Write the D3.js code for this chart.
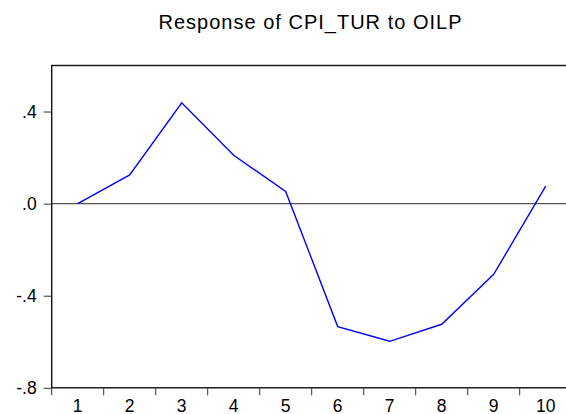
<!doctype html>
<html>
<head>
<meta charset="UTF-8">
<title>Response of CPI_TUR to OILP</title>
<script src="https://d3js.org/d3.v7.min.js"></script>
<style>
  body { margin: 0; background: #fff; }
  svg text { font-family: "Liberation Sans", Arial, sans-serif; fill: #000; }
</style>
</head>
<body>
<svg id="chart" width="566" height="414"></svg>
<script>
// periods and impulse response values
var periods = [1, 2, 3, 4, 5, 6, 7, 8, 9, 10];
var response = [0.0, 0.125, 0.438, 0.21, 0.053, -0.534, -0.598, -0.524, -0.307, 0.076];
var yTicks = [-0.8, -0.4, 0.0, 0.4];
var yTickLabels = ["-.8", "-.4", ".0", ".4"];
var title = "Response of CPI_TUR to OILP";

function draw() {
    var svg = d3.select("#chart");
    var plotLeft = 51.7, plotTop = 65.5, plotBottom = 387.8, plotRight = 571.7;

    var x = d3.scaleBand().domain(periods).range([plotLeft, plotRight]);
    var y = d3.scaleLinear().domain([-0.8, 0.6]).range([plotBottom, plotTop]);

    // title
    svg.append("text")
        .attr("x", 158.5)
        .attr("y", 29.3)
        .attr("font-size", 20)
        .attr("textLength", 303)
        .attr("lengthAdjust", "spacing")
        .text(title);

    // zero line
    svg.append("line")
        .attr("x1", plotLeft).attr("x2", plotRight)
        .attr("y1", y(0)).attr("y2", y(0))
        .attr("stroke", "#555")
        .attr("stroke-width", 1.3);

    // response line
    var line = d3.line()
        .x(function(d, i) { return x(periods[i]) + x.bandwidth() / 2; })
        .y(function(d) { return y(d); });

    svg.append("path")
        .datum(response)
        .attr("d", line)
        .attr("fill", "none")
        .attr("stroke", "#0000ff")
        .attr("stroke-width", 1.4);

    // frame
    svg.append("rect")
        .attr("x", plotLeft).attr("y", plotTop)
        .attr("width", plotRight - plotLeft).attr("height", plotBottom - plotTop)
        .attr("fill", "none")
        .attr("stroke", "#111")
        .attr("stroke-width", 1.4);

    // y axis
    var yAxis = d3.axisLeft(y)
        .tickValues(yTicks)
        .tickFormat(function(d, i) { return yTickLabels[i]; })
        .tickSize(8)
        .tickPadding(7);
    var gy = svg.append("g").attr("transform", "translate(" + plotLeft + ",0)").call(yAxis);
    gy.select(".domain").remove();
    gy.selectAll("line").attr("stroke", "#333");
    gy.selectAll("text")
        .attr("font-size", 17.5)
        .attr("font-family", "Liberation Sans, Arial, sans-serif")
        .attr("fill", "#000");

    // x axis: ticks between periods, labels centred
    var gx = svg.append("g").attr("transform", "translate(0," + plotBottom + ")");
    gx.selectAll("line.tick")
        .data(periods)
        .enter().append("line")
        .attr("class", "tick")
        .attr("x1", function(d) { return x(d); })
        .attr("x2", function(d) { return x(d); })
        .attr("y1", 0).attr("y2", 7.5)
        .attr("stroke", "#333");
    gx.selectAll("text")
        .data(periods)
        .enter().append("text")
        .attr("x", function(d) { return x(d) + x.bandwidth() / 2; })
        .attr("y", 24.5)
        .attr("text-anchor", "middle")
        .attr("font-size", 17.5)
        .text(function(d) { return d; });
}

draw();
</script>
</body>
</html>
